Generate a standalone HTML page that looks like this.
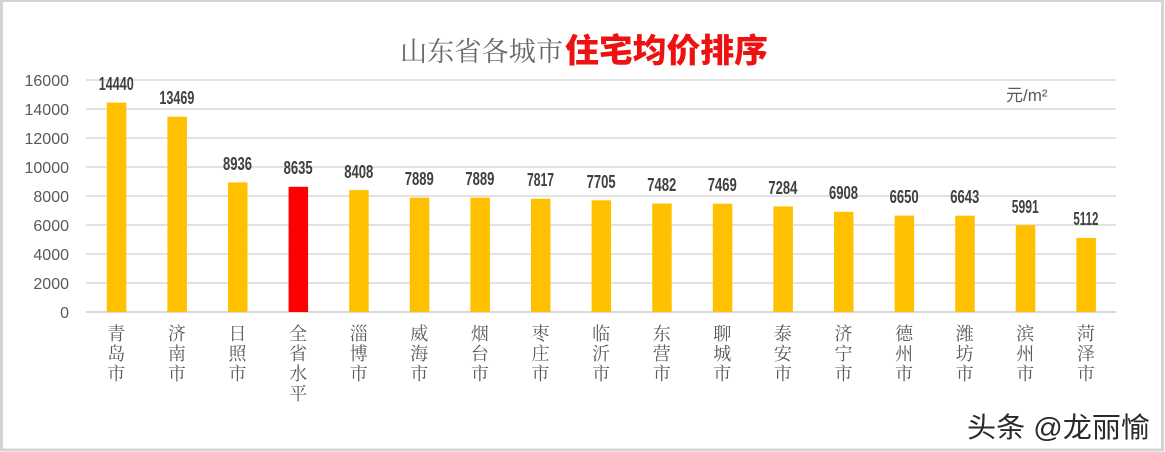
<!DOCTYPE html>
<html><head><meta charset="utf-8"><style>
html,body{margin:0;padding:0;background:#fff;}
svg{display:block;}
</style></head><body>
<svg width="1165" height="452" viewBox="0 0 1165 452" xmlns="http://www.w3.org/2000/svg">
<rect x="0" y="0" width="1165" height="452" fill="#fff"/>
<!-- border -->
<rect x="1.5" y="0.5" width="1161" height="449.5" fill="none" stroke="#d4d4d4" stroke-width="3"/>
<!-- title -->
<text x="400" y="61" font-family="'Noto Serif CJK SC','Noto Serif CJK JP',serif" font-size="27" fill="#6a6a6a" textLength="163" lengthAdjust="spacingAndGlyphs">山东省各城市</text>
<text x="565" y="62" font-family="'Liberation Sans','Noto Sans CJK SC',sans-serif" font-size="33" fill="#ee1111" font-weight="900" textLength="203" lengthAdjust="spacingAndGlyphs">住宅均价排序</text>
<!-- gridlines -->
<g stroke="#d9d9d9" stroke-width="1.5">
<line x1="86" x2="1116" y1="80" y2="80"/>
<line x1="86" x2="1116" y1="109" y2="109"/>
<line x1="86" x2="1116" y1="138" y2="138"/>
<line x1="86" x2="1116" y1="167" y2="167"/>
<line x1="86" x2="1116" y1="196" y2="196"/>
<line x1="86" x2="1116" y1="225" y2="225"/>
<line x1="86" x2="1116" y1="254" y2="254"/>
<line x1="86" x2="1116" y1="283" y2="283"/>
<line x1="86" x2="1116" y1="312" y2="312" stroke-width="2"/>
</g>
<!-- y labels -->
<g font-family="'Liberation Sans',sans-serif" font-size="16" fill="#595959" text-anchor="end">
<text x="69" y="86">16000</text>
<text x="69" y="115">14000</text>
<text x="69" y="144">12000</text>
<text x="69" y="173">10000</text>
<text x="69" y="202">8000</text>
<text x="69" y="231">6000</text>
<text x="69" y="260">4000</text>
<text x="69" y="289">2000</text>
<text x="69" y="318">0</text>
</g>
<!-- unit -->
<text x="1006" y="101" font-family="'Liberation Sans','Noto Sans CJK SC',sans-serif" font-size="17" fill="#595959">元/m²</text>
<!-- bars -->
<g fill="#FFC000">
<rect x="106.8" y="102.6" width="19.5" height="209.4"/>
<rect x="167.4" y="116.7" width="19.5" height="195.3"/>
<rect x="228.0" y="182.4" width="19.5" height="129.6"/>
<rect x="288.6" y="186.8" width="19.5" height="125.2" fill="#FF0000"/>
<rect x="349.2" y="190.1" width="19.5" height="121.9"/>
<rect x="409.8" y="197.6" width="19.5" height="114.4"/>
<rect x="470.4" y="197.6" width="19.5" height="114.4"/>
<rect x="531.0" y="198.7" width="19.5" height="113.3"/>
<rect x="591.6" y="200.3" width="19.5" height="111.7"/>
<rect x="652.2" y="203.5" width="19.5" height="108.5"/>
<rect x="712.8" y="203.7" width="19.5" height="108.3"/>
<rect x="773.4" y="206.4" width="19.5" height="105.6"/>
<rect x="834.0" y="211.8" width="19.5" height="100.2"/>
<rect x="894.6" y="215.6" width="19.5" height="96.4"/>
<rect x="955.2" y="215.7" width="19.5" height="96.3"/>
<rect x="1015.8" y="225.1" width="19.5" height="86.9"/>
<rect x="1076.4" y="237.9" width="19.5" height="74.1"/>
</g>
<!-- data labels -->
<g font-family="'Liberation Sans',sans-serif" font-size="18" font-weight="bold" fill="#404040" text-anchor="middle">
<text x="116.3" y="90" textLength="35" lengthAdjust="spacingAndGlyphs">14440</text>
<text x="176.9" y="104" textLength="35" lengthAdjust="spacingAndGlyphs">13469</text>
<text x="237.5" y="170" textLength="29" lengthAdjust="spacingAndGlyphs">8936</text>
<text x="298.1" y="174" textLength="29" lengthAdjust="spacingAndGlyphs">8635</text>
<text x="358.7" y="178" textLength="29" lengthAdjust="spacingAndGlyphs">8408</text>
<text x="419.3" y="185" textLength="29" lengthAdjust="spacingAndGlyphs">7889</text>
<text x="479.9" y="185" textLength="29" lengthAdjust="spacingAndGlyphs">7889</text>
<text x="540.5" y="186" textLength="27" lengthAdjust="spacingAndGlyphs">7817</text>
<text x="601.1" y="188" textLength="29" lengthAdjust="spacingAndGlyphs">7705</text>
<text x="661.7" y="191" textLength="29" lengthAdjust="spacingAndGlyphs">7482</text>
<text x="722.3" y="191" textLength="29" lengthAdjust="spacingAndGlyphs">7469</text>
<text x="782.9" y="194" textLength="29" lengthAdjust="spacingAndGlyphs">7284</text>
<text x="843.5" y="199" textLength="29" lengthAdjust="spacingAndGlyphs">6908</text>
<text x="904.1" y="203" textLength="29" lengthAdjust="spacingAndGlyphs">6650</text>
<text x="964.7" y="203" textLength="29" lengthAdjust="spacingAndGlyphs">6643</text>
<text x="1025.3" y="213" textLength="27" lengthAdjust="spacingAndGlyphs">5991</text>
<text x="1085.9" y="225" textLength="25" lengthAdjust="spacingAndGlyphs">5112</text>
</g>
<!-- x labels -->
<g font-family="'Noto Serif CJK SC','Noto Serif CJK JP',serif" font-size="18" fill="#595959" text-anchor="middle">
<text x="116.3" y="340">青</text><text x="116.3" y="360">岛</text><text x="116.3" y="380">市</text>
<text x="176.9" y="340">济</text><text x="176.9" y="360">南</text><text x="176.9" y="380">市</text>
<text x="237.5" y="340">日</text><text x="237.5" y="360">照</text><text x="237.5" y="380">市</text>
<text x="298.1" y="340">全</text><text x="298.1" y="360">省</text><text x="298.1" y="380">水</text><text x="298.1" y="400">平</text>
<text x="358.7" y="340">淄</text><text x="358.7" y="360">博</text><text x="358.7" y="380">市</text>
<text x="419.3" y="340">威</text><text x="419.3" y="360">海</text><text x="419.3" y="380">市</text>
<text x="479.9" y="340">烟</text><text x="479.9" y="360">台</text><text x="479.9" y="380">市</text>
<text x="540.5" y="340">枣</text><text x="540.5" y="360">庄</text><text x="540.5" y="380">市</text>
<text x="601.1" y="340">临</text><text x="601.1" y="360">沂</text><text x="601.1" y="380">市</text>
<text x="661.7" y="340">东</text><text x="661.7" y="360">营</text><text x="661.7" y="380">市</text>
<text x="722.3" y="340">聊</text><text x="722.3" y="360">城</text><text x="722.3" y="380">市</text>
<text x="782.9" y="340">泰</text><text x="782.9" y="360">安</text><text x="782.9" y="380">市</text>
<text x="843.5" y="340">济</text><text x="843.5" y="360">宁</text><text x="843.5" y="380">市</text>
<text x="904.1" y="340">德</text><text x="904.1" y="360">州</text><text x="904.1" y="380">市</text>
<text x="964.7" y="340">潍</text><text x="964.7" y="360">坊</text><text x="964.7" y="380">市</text>
<text x="1025.3" y="340">滨</text><text x="1025.3" y="360">州</text><text x="1025.3" y="380">市</text>
<text x="1085.9" y="340">菏</text><text x="1085.9" y="360">泽</text><text x="1085.9" y="380">市</text>
</g>
<!-- watermark -->
<text x="967" y="437" font-family="'Liberation Sans','Noto Sans CJK SC',sans-serif" font-size="28" fill="#2a2a2a" stroke="#ffffff" stroke-width="0.6" paint-order="stroke" textLength="183" lengthAdjust="spacingAndGlyphs">头条 @龙丽愉</text>
</svg>
</body></html>
